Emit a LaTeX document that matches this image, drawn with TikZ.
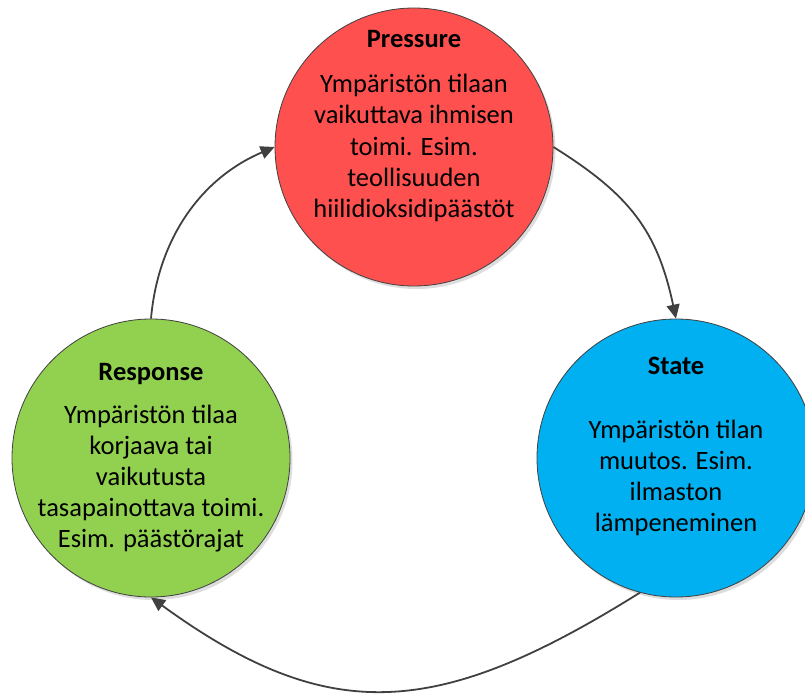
\documentclass[tikz,border=0pt]{standalone}
\usepackage{fontspec}
\setmainfont{Carlito}
\usetikzlibrary{arrows.meta,shadows}
\definecolor{pressred}{HTML}{FF5050}
\definecolor{respgreen}{HTML}{92D050}
\definecolor{stateblue}{HTML}{00B0F0}
\definecolor{edgegray}{HTML}{404040}
\tikzset{
  bubble/.style={circle, draw=edgegray, line width=0.8pt, minimum size=278pt, inner sep=0pt,
    drop shadow={shadow xshift=2.5pt, shadow yshift=-3pt, fill=black!22, opacity=0.6}},
  title/.style={anchor=base, font=\fontsize{26.5}{31}\selectfont\bfseries, inner sep=0pt},
  body/.style={anchor=base, align=center, font=\fontsize{26.5}{31}\selectfont, inner sep=0pt},
  arr/.style={draw=edgegray, line width=1.8pt, -{Triangle[length=14pt,width=13pt]}}
}
\begin{document}
\begin{tikzpicture}[x=1pt,y=1pt]
\useasboundingbox (0,0) rectangle (805,-695);
\node[bubble, fill=pressred] (press) at (414,-147) {};
\node[bubble, fill=respgreen] (resp) at (151,-458) {};
\node[bubble, fill=stateblue] (state) at (676,-458) {};

% body nodes: base anchor = baseline of last line
\node[title] (pt) at (414,-48) {Pressure};
\node[body] (pb) at (414,-217) {Ympäristön tilaan\\vaikuttava ihmisen\\toimi. Esim.\\teollisuuden\\hiilidioksidipäästöt};

\node[title] (rt) at (151,-380) {Response};
\node[body] (rb) at (151,-547) {Ympäristön tilaa\\korjaava tai\\vaikutusta\\tasapainottava toimi.\\Esim. päästörajat};

\node[title] (st) at (676,-374) {State};
\node[body] (sb) at (676,-531) {Ympäristön tilan\\muutos. Esim.\\ilmaston\\lämpeneminen};

\draw[arr] (resp.90) .. controls +(85:80) and +(203:80) .. (press.180);
\draw[arr] (press.0) .. controls +(-32:90) and +(102:90) .. (state.90);
\draw[arr] (state.255.6) .. controls +(212:239) and +(324:220) .. (resp.270);
\end{tikzpicture}
\end{document}
